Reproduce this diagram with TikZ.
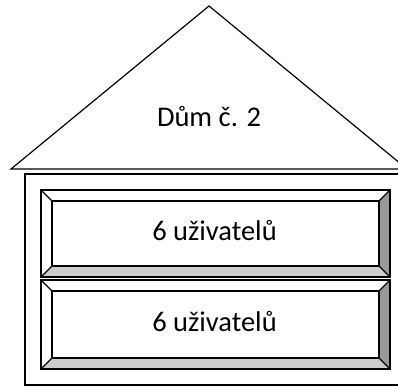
\documentclass[tikz,border=0pt]{standalone}
\usepackage{fontspec}
\setmainfont{Carlito}
\begin{document}
\begin{tikzpicture}[x=1pt,y=-1pt,
  outline/.style={line width=1.4pt, line join=miter},
  roof/.style={line width=1.2pt, line join=miter},
  label/.style={font=\fontsize{28.5}{34}\selectfont, anchor=base, inner sep=0pt},
  shadeR/.style={fill=black!40},
  shadeB/.style={fill=black!20}]
\useasboundingbox (0,0) rectangle (398,387);
\clip (0,0) rectangle (398,387);
% roof
\draw[roof] (11,169) -- (209,6) -- (407,169) -- cycle;
\node[label] (roofText) at (209,126.5) {Dům č. 2};
% house body
\draw[outline] (25,174) rectangle (403,385);
% bevel box 1
\fill[shadeR] (390,190) -- (390,277) -- (379,266) -- (379,201) -- cycle;
\fill[shadeB] (41,277) -- (390,277) -- (379,266) -- (52,266) -- cycle;
\draw[outline] (41,190) rectangle (390,277);
\draw[outline] (52,201) rectangle (379,266);
\draw[outline] (41,190) -- (52,201) (390,190) -- (379,201) (41,277) -- (52,266) (390,277) -- (379,266);
\node[label] (users1) at (214.5,240.5) {6 uživatelů};
% bevel box 2
\fill[shadeR] (390,280) -- (390,369) -- (379,358) -- (379,291) -- cycle;
\fill[shadeB] (41,369) -- (390,369) -- (379,358) -- (52,358) -- cycle;
\draw[outline] (41,280) rectangle (390,369);
\draw[outline] (52,291) rectangle (379,358);
\draw[outline] (41,280) -- (52,291) (390,280) -- (379,291) (41,369) -- (52,358) (390,369) -- (379,358);
\node[label] (users2) at (214.5,331) {6 uživatelů};
\end{tikzpicture}
\end{document}
